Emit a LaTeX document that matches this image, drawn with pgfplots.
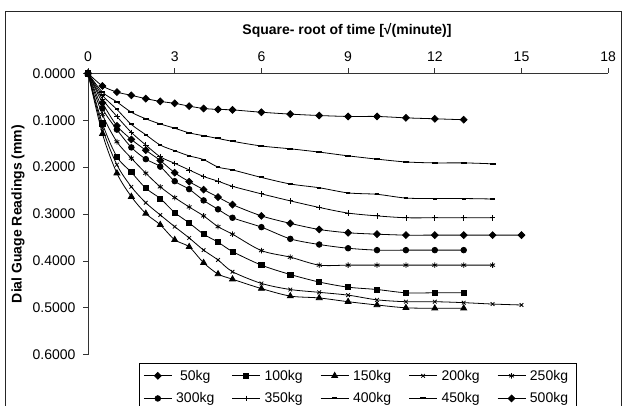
\documentclass[border=0pt]{standalone}
\usepackage{pgfplots}
\pgfplotsset{compat=1.18}
\usepackage{fontspec}
\setmainfont{Liberation Sans}
\newcommand{\fs}{\fontsize{14}{16}\selectfont}
\begin{document}
\begin{tikzpicture}[x=1pt,y=1pt]
\begin{axis}[
  at={(88pt,50.3pt)}, anchor=south west,
  scale only axis, width=520.2pt, height=281.4pt,
  xmin=0, xmax=18, ymin=0, ymax=0.6, y dir=reverse,
  axis x line*=top, axis y line*=left,
  axis line style={black!80, line width=0.8pt},
  xtick={0,3,6,9,12,15,18},
  ytick={0,0.1,0.2,0.3,0.4,0.5,0.6},
  tick align=outside, major tick length=5pt,
  tick style={black!80, line width=0.8pt},
  /pgf/number format/assume math mode=true,
  tick label style={font=\fs},
  yticklabel style={/pgf/number format/fixed, /pgf/number format/fixed zerofill, /pgf/number format/precision=4, xshift=-4pt},
  xticklabel style={yshift=3pt},
  clip=false,
  every axis plot/.append style={black, line width=0.8pt, smooth, tension=0.5},
  legend image code/.code={\draw[mark repeat=2, mark phase=2, #1] plot coordinates {(0pt,0pt) (14pt,0pt) (28pt,0pt)};},
  legend columns=5,
  legend style={at={(0.098,-0.028)}, anchor=north west, draw=black, line width=0.8pt,
    font=\fs, inner xsep=4pt, inner ysep=5pt, row sep=7pt,
    nodes={inner xsep=4pt},
    /tikz/every even column/.append style={column sep=13.5pt}},
]
% 50kg
\addplot[mark=square*, mark size=2.4pt, mark options={rotate=45}] coordinates {
(0,0) (0.5,0.027) (1,0.040) (1.5,0.047) (2,0.054) (2.5,0.060) (3,0.064) (3.5,0.070) (4,0.075) (4.5,0.077) (5,0.078) (6,0.083) (7,0.087) (8,0.090) (9,0.092) (10,0.092) (11,0.095) (12,0.097) (13,0.099)};
\addlegendentry{50kg}
% 100kg
\addplot[mark=square*, mark size=2.6pt] coordinates {
(0,0) (0.5,0.107) (1,0.178) (1.5,0.211) (2,0.245) (2.5,0.267) (3,0.297) (3.5,0.319) (4,0.343) (4.5,0.360) (5,0.380) (6,0.409) (7,0.429) (8,0.445) (9,0.456) (10,0.461) (11,0.468) (12,0.468) (13,0.468)};
\addlegendentry{100kg}
% 150kg
\addplot[mark=triangle*, mark size=3.4pt] coordinates {
(0,0) (0.5,0.129) (1,0.213) (1.5,0.263) (2,0.299) (2.5,0.323) (3,0.355) (3.5,0.370) (4,0.404) (4.5,0.428) (5,0.439) (6,0.459) (7,0.475) (8,0.479) (9,0.487) (10,0.494) (11,0.500) (12,0.501) (13,0.501)};
\addlegendentry{150kg}
% 200kg
\addplot[mark=x, mark size=2.6pt] coordinates {
(0,0) (0.5,0.117) (1,0.195) (1.5,0.242) (2,0.276) (2.5,0.302) (3,0.327) (3.5,0.351) (4,0.377) (4.5,0.398) (5,0.423) (6,0.448) (7,0.461) (8,0.467) (9,0.473) (10,0.483) (11,0.487) (12,0.487) (13,0.489) (14,0.492) (15,0.494)};
\addlegendentry{200kg}
% 250kg
\addplot[mark=asterisk, mark size=2.8pt] coordinates {
(0,0) (0.5,0.088) (1,0.146) (1.5,0.181) (2,0.213) (2.5,0.242) (3,0.265) (3.5,0.285) (4,0.304) (4.5,0.327) (5,0.343) (6,0.378) (7,0.392) (8,0.409) (9,0.409) (10,0.409) (11,0.409) (12,0.409) (13,0.409) (14,0.409)};
\addlegendentry{250kg}
% 300kg
\addplot[mark=*, mark size=2.8pt] coordinates {
(0,0) (0.5,0.075) (1,0.120) (1.5,0.158) (2,0.183) (2.5,0.199) (3,0.230) (3.5,0.247) (4,0.271) (4.5,0.290) (5,0.308) (6,0.328) (7,0.353) (8,0.365) (9,0.373) (10,0.377) (11,0.377) (12,0.377) (13,0.377)};
\addlegendentry{300kg}
% 350kg
\addplot[mark=+, mark size=2.8pt] coordinates {
(0,0) (0.5,0.055) (1,0.092) (1.5,0.126) (2,0.153) (2.5,0.178) (3,0.192) (3.5,0.206) (4,0.220) (4.5,0.230) (5,0.241) (6,0.257) (7,0.272) (8,0.286) (9,0.298) (10,0.304) (11,0.308) (12,0.308) (13,0.308) (14,0.308)};
\addlegendentry{350kg}
% 400kg
\addplot[mark=-, mark size=2.2pt, mark options={line width=2pt}] coordinates {
(0,0) (0.5,0.047) (1,0.077) (1.5,0.109) (2,0.131) (2.5,0.153) (3,0.165) (3.5,0.176) (4,0.184) (4.5,0.200) (5,0.206) (6,0.222) (7,0.236) (8,0.244) (9,0.255) (10,0.258) (11,0.266) (12,0.267) (13,0.267) (14,0.268)};
\addlegendentry{400kg}
% 450kg
\addplot[mark=-, mark size=3pt, mark options={line width=2pt}] coordinates {
(0,0) (0.5,0.040) (1,0.061) (1.5,0.083) (2,0.097) (2.5,0.108) (3,0.117) (3.5,0.127) (4,0.133) (4.5,0.139) (5,0.145) (6,0.155) (7,0.161) (8,0.168) (9,0.176) (10,0.183) (11,0.189) (12,0.191) (13,0.191) (14,0.193)};
\addlegendentry{450kg}
% 500kg
\addplot[mark=square*, mark size=2.4pt, mark options={rotate=45}] coordinates {
(0,0) (0.5,0.063) (1,0.112) (1.5,0.141) (2,0.164) (2.5,0.186) (3,0.212) (3.5,0.231) (4,0.248) (4.5,0.264) (5,0.280) (6,0.304) (7,0.320) (8,0.333) (9,0.340) (10,0.343) (11,0.345) (12,0.345) (13,0.345) (14,0.345) (15,0.345)};
\addlegendentry{500kg}
\end{axis}
\node[font=\bfseries\fs] at (347,375) {Square- root of time [√(minute)]};
\node[font=\bfseries\fs, rotate=90] at (18,191) {Dial Guage Readings (mm)};
\draw[black!85, line width=0.8pt] (5,-20) -- (5,394) -- (621,394) -- (621,-20);
\pgfresetboundingbox
\useasboundingbox (0,0) rectangle (623,405);
\end{tikzpicture}
\end{document}
